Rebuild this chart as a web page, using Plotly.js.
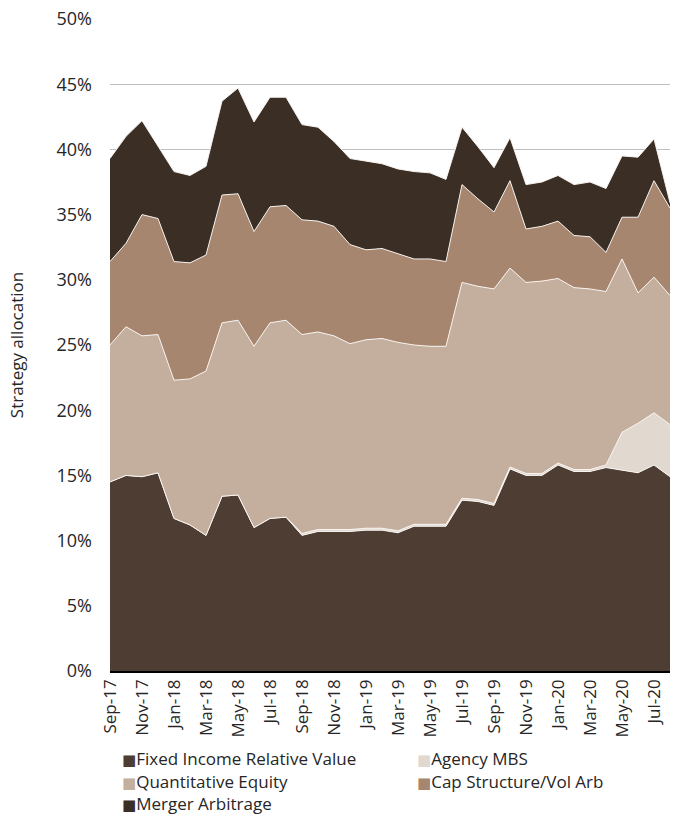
<!DOCTYPE html>
<html>
<head>
<meta charset="utf-8">
<script src="https://cdn.plot.ly/plotly-3.0.1.min.js"></script>
<style>
  html, body { margin: 0; padding: 0; background: #fff; }
  #chart { width: 673px; height: 816px; }
</style>
</head>
<body>
<div id="chart"></div>
<script>
const months = ['Sep-17','Oct-17','Nov-17','Dec-17','Jan-18','Feb-18','Mar-18','Apr-18','May-18','Jun-18','Jul-18','Aug-18',
  'Sep-18','Oct-18','Nov-18','Dec-18','Jan-19','Feb-19','Mar-19','Apr-19','May-19','Jun-19','Jul-19','Aug-19',
  'Sep-19','Oct-19','Nov-19','Dec-19','Jan-20','Feb-20','Mar-20','Apr-20','May-20','Jun-20','Jul-20','Aug-20'];

const tickLabels = ['Sep-17','Nov-17','Jan-18','Mar-18','May-18','Jul-18','Sep-18','Nov-18','Jan-19',
  'Mar-19','May-19','Jul-19','Sep-19','Nov-19','Jan-20','Mar-20','May-20','Jul-20'];

const fixedIncomeRV = [14.5,15.0,14.9,15.2,11.7,11.2,10.4,13.4,13.5,11.0,11.7,11.8,
  10.4,10.7,10.7,10.7,10.8,10.8,10.6,11.1,11.1,11.1,13.1,13.0,
  12.7,15.5,15.0,15.0,15.8,15.3,15.3,15.6,15.4,15.2,15.8,14.9];

const agencyMBS = [0,0,0,0,0,0,0,0,0,0,0,0,
  0.15,0.15,0.15,0.15,0.15,0.15,0.15,0.15,0.15,0.15,0.15,0.15,
  0.15,0.15,0.15,0.15,0.15,0.15,0.15,0.2,2.9,3.8,4.0,4.0];

const quantEquity = [10.5,11.4,10.8,10.6,10.6,11.2,12.6,13.3,13.4,13.9,15.0,15.1,
  15.25,15.15,14.85,14.25,14.45,14.55,14.45,13.75,13.65,13.65,16.55,16.35,
  16.45,15.25,14.65,14.75,14.15,13.95,13.85,13.3,13.3,10.0,10.4,9.9];

const capStructVolArb = [6.4,6.4,9.3,8.9,9.1,8.9,8.9,9.8,9.7,8.8,8.9,8.8,
  8.8,8.5,8.4,7.6,6.9,6.9,6.8,6.6,6.7,6.5,7.5,6.7,
  5.9,6.7,4.1,4.2,4.4,4.0,4.0,3.0,3.2,5.8,7.4,6.7];

const mergerArb = [7.9,8.2,7.2,5.5,6.9,6.7,6.8,7.2,8.1,8.4,8.4,8.3,
  7.3,7.2,6.5,6.6,6.8,6.5,6.5,6.7,6.6,6.3,4.4,4.0,
  3.4,3.3,3.4,3.4,3.5,3.9,4.2,4.9,4.7,4.6,3.2,0.4];

const seriesNames = ['Fixed Income Relative Value','Agency MBS','Quantitative Equity','Cap Structure/Vol Arb','Merger Arbitrage'];
const seriesData = [fixedIncomeRV, agencyMBS, quantEquity, capStructVolArb, mergerArb];
const seriesColors = ['#4d3d32','#e1d8d0','#c4ae9e','#a6866f','#3b2e25'];

const FONT = '"Open Sans", "Noto Sans", sans-serif';
const TXT = '#262626';

const traces = seriesData.map((vals, k) => ({
  type: 'scatter',
  mode: 'lines',
  x: months,
  y: vals,
  name: seriesNames[k],
  stackgroup: 'one',
  fillcolor: seriesColors[k],
  line: { color: 'rgba(250,246,242,0.95)', width: 1 },
  showlegend: false,
  hoverinfo: 'x+y+name'
}));

// legend drawn as text (two columns, Excel style)
const legendPos = [[0,0],[1,0],[0,1],[1,1],[0,2]];
const colX = [120, 415];
const rowY = [758, 781, 803];
const annotations = seriesNames.map((nm, k) => ({
  xref: 'paper', yref: 'paper',
  x: (colX[legendPos[k][0]] - 110) / 560,
  y: (816 - 145 - rowY[legendPos[k][1]]) / 652,
  xanchor: 'left', yanchor: 'middle',
  showarrow: false,
  text: '<span style="color:' + seriesColors[k] + ';font-family:DejaVu Sans;font-size:15px">■</span>' + nm,
  font: { family: FONT, size: 17, color: TXT }
}));

const layout = {
  width: 673,
  height: 816,
  paper_bgcolor: '#fff',
  plot_bgcolor: '#fff',
  margin: { l: 110, r: 3, t: 19, b: 145 },
  showlegend: false,
  font: { family: FONT, color: TXT },
  xaxis: {
    type: 'category',
    range: [0, months.length - 1],
    tickvals: tickLabels,
    ticktext: tickLabels,
    tickangle: -90,
    tickfont: { family: FONT, size: 17, color: TXT },
    showgrid: false,
    zeroline: false,
    showline: false,
    ticks: '',
    ticklabelstandoff: 4
  },
  yaxis: {
    range: [0, 50],
    dtick: 5,
    ticksuffix: '%',
    tickfont: { family: FONT, size: 18, color: TXT },
    showgrid: true,
    gridcolor: '#bfbfbf',
    gridwidth: 1,
    zeroline: true,
    zerolinecolor: '#000',
    zerolinewidth: 3,
    showline: false,
    ticks: '',
    ticklabelstandoff: 17,
    title: { text: 'Strategy allocation', font: { family: FONT, size: 17, color: TXT }, standoff: 28 }
  },
  annotations: annotations
};

Plotly.newPlot('chart', traces, layout, { displayModeBar: false, staticPlot: true });
</script>
</body>
</html>
